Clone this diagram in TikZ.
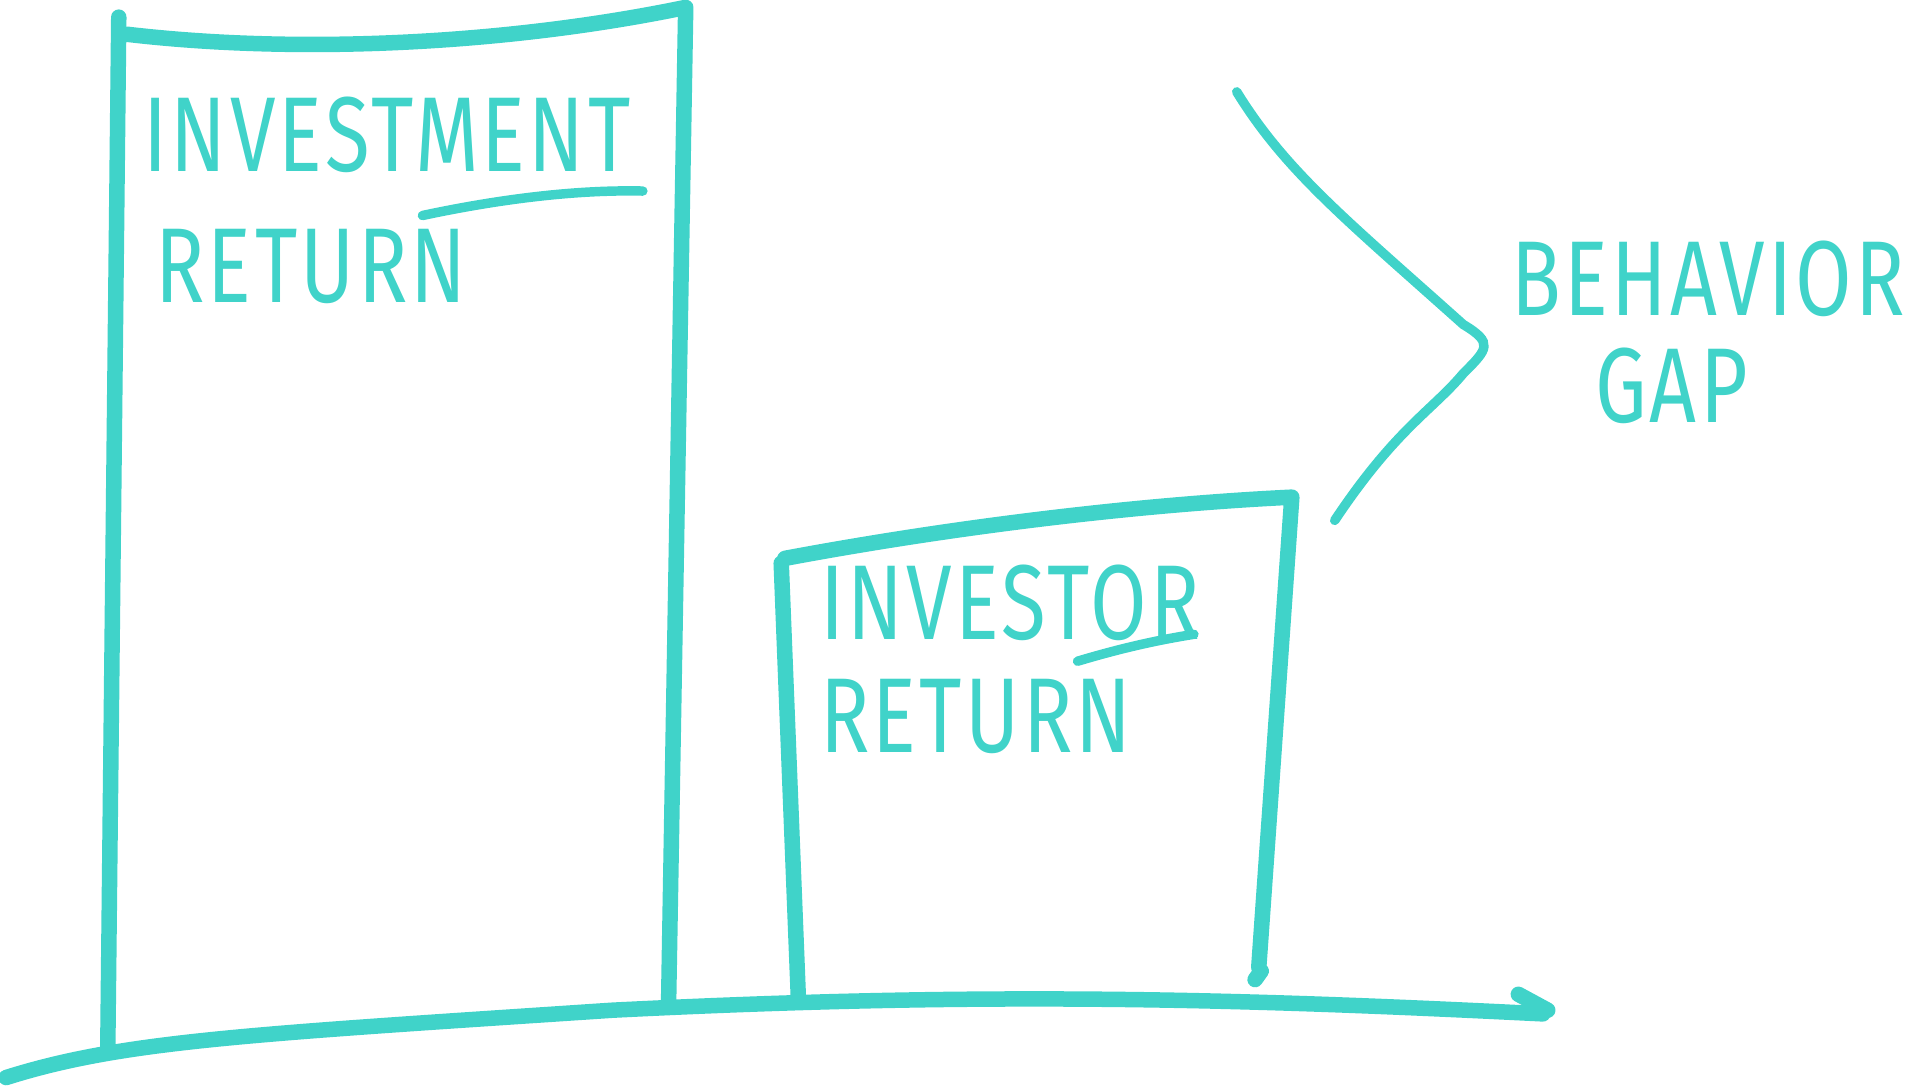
\documentclass[tikz,border=0pt]{standalone}
\usepackage{fontspec}
\setmainfont{Fira Sans}
\definecolor{teal}{HTML}{40D3C9}
\begin{document}
\begin{tikzpicture}[x=0.01cm, y=-0.01cm,
    stroke/.style={draw=teal, line width=3.6pt, line cap=round, line join=round},
    thin stroke/.style={draw=teal, line width=2.2pt, line cap=round},
    hand/.style={text=teal, font=\fontsize{19}{23}\selectfont\addfontfeature{LetterSpace=4}, yscale=1.3}
]
\useasboundingbox (0,0) rectangle (1568,887);

% axis
\draw[stroke] (5,880) .. controls (100,850) and (200,845) .. (500,825) .. controls (800,810) and (1000,815) .. (1260,828);
\draw[stroke] (1240,812) -- (1264,825);

% investment bar
\draw[stroke] (97,14) -- (88,858);
\draw[stroke] (104,28) .. controls (250,45) and (420,35) .. (560,6) -- (546,820);

% investor bar
\draw[stroke] (638,460) -- (652,815);
\draw[stroke] (641,456) .. controls (780,430) and (930,412) .. (1055,406) -- (1028,790);
\draw[stroke] (1030,793) -- (1025,800);

% gap brace
\draw[thin stroke] (1010,75) .. controls (1050,140) and (1100,180) .. (1195,265)
  .. controls (1220,280) and (1215,285) .. (1195,305)
  .. controls (1170,335) and (1140,350) .. (1090,425);

% labels
\node[hand] (invest) at (316,110) {INVESTMENT};
\node[hand] (ret1) at (254,218) {RETURN};
\draw[thin stroke] (345,176) .. controls (420,160) and (480,155) .. (525,156);

\node[hand] (investor) at (825,492) {INVESTOR};
\node[hand] (ret2) at (797,585) {RETURN};
\draw[thin stroke] (880,540) .. controls (920,528) and (950,522) .. (975,518);

\node[hand] (behavior) at (1395,228) {BEHAVIOR};
\node[hand] (gap) at (1365,315) {GAP};
\end{tikzpicture}
\end{document}
